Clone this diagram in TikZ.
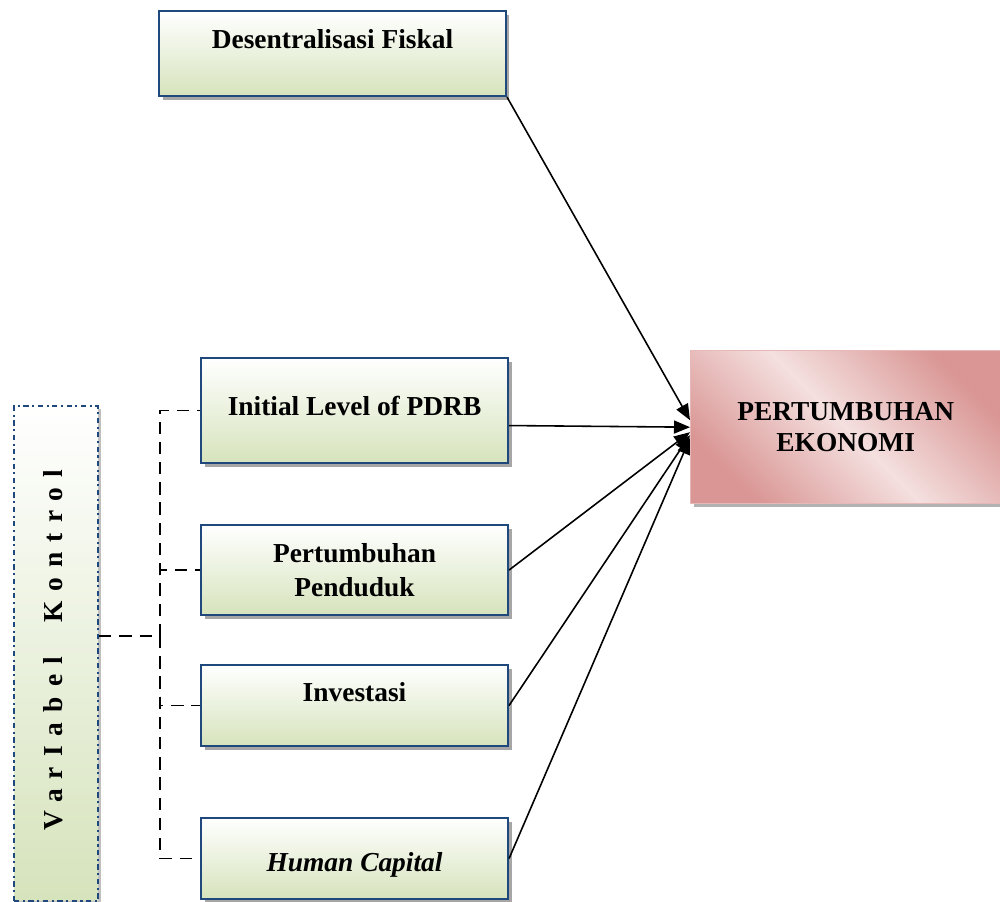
\documentclass[tikz,border=0pt]{standalone}
\usepackage{fontspec}
\setmainfont{Liberation Serif}
\usepackage{tikz}
\usetikzlibrary{shapes.geometric, arrows.meta, positioning, calc, shadows}
\definecolor{boxblue}{RGB}{31,73,125}
\definecolor{boxgreen}{RGB}{214,227,188}
\definecolor{pinkdark}{RGB}{217,150,148}
\definecolor{pinklight}{RGB}{244,224,223}
\definecolor{pinkline}{RGB}{230,185,184}
\tikzset{
  factorbox/.style={
    rectangle, draw=boxblue, line width=1.2pt,
    top color=white, bottom color=boxgreen,
    drop shadow={shadow xshift=0.07cm, shadow yshift=-0.07cm, fill=gray!70, opacity=1},
    anchor=north west, inner ysep=0pt, align=center,
    font=\fontsize{15.6}{19}\selectfont\bfseries
  },
  targetbox/.style={
    rectangle, draw=pinkline, line width=0.8pt,
    top color=pinkdark, bottom color=pinkdark, middle color=pinklight,
    shading angle=-45,
    drop shadow={shadow xshift=0.07cm, shadow yshift=-0.07cm, fill=gray!60, opacity=1},
    anchor=north west, align=center,
    font=\fontsize{15.6}{17.5}\selectfont\bfseries
  },
  controlbox/.style={
    rectangle, draw=boxblue, line width=1.2pt, dash dot,
    top color=white, bottom color=boxgreen,
    drop shadow={shadow xshift=0.05cm, shadow yshift=-0.05cm, fill=gray!50, opacity=1},
    anchor=north west, inner sep=0pt
  },
  arrow/.style={line width=0.9pt, -{Triangle[length=0.32cm, width=0.26cm]}, color=black},
  dashline/.style={line width=0.9pt, dash pattern=on 7pt off 4.5pt, color=black},
}
\begin{document}
\begin{tikzpicture}[x=0.02cm, y=-0.02cm]
  \useasboundingbox (0,0) rectangle (1000,902);

  \node (desf) [factorbox, minimum width=6.94cm, text height=0.74cm, text depth=0.96cm] at (158,10) {Desentralisasi Fiskal};
  \node (init) [factorbox, minimum width=6.14cm, text height=1.14cm, text depth=0.96cm] at (200,357) {Initial Level of PDRB};
  \node (pend) [factorbox, minimum width=6.14cm, minimum height=1.8cm, inner ysep=0pt] at (200,524) {Pertumbuhan\\Penduduk};
  \node (inv)  [factorbox, minimum width=6.14cm, text height=0.72cm, text depth=0.9cm] at (200,664) {Investasi};
  \node (hc)   [factorbox, minimum width=6.14cm, text height=1.06cm, text depth=0.56cm] at (200,817) {\textit{Human Capital}};
  \node (pe)   [targetbox, minimum width=6.2cm, minimum height=3.06cm] at (690,350) {PERTUMBUHAN\\EKONOMI};
  \node (ctrl) [controlbox, minimum width=1.68cm, minimum height=9.9cm] at (13,405) {};
  \node (ctrltext) [rotate=90, font=\fontsize{15.6}{19}\selectfont\bfseries\addfontfeatures{LetterSpace=37}] at (53,650) {VarIabel\ \ Kontrol};

  % panah ke pertumbuhan ekonomi
  \draw [arrow] (desf.south east) -- ([yshift=0.14cm]pe.west);
  \draw [arrow] ([yshift=-0.3cm]init.east) -- ([yshift=-0.0cm]pe.west);
  \draw [arrow] (pend.east) -- ([yshift=-0.1cm]pe.west);
  \draw [arrow] (inv.east)  -- ([yshift=-0.16cm]pe.west);
  \draw [arrow] (hc.east)   -- ([yshift=-0.22cm]pe.west);

  % variabel kontrol
  \coordinate (bus) at (160,636);
  \draw [dashline] (ctrl.east |- bus) -- (bus);
  \foreach \n in {init,pend,inv,hc}
    \draw [dashline] (bus) |- (\n.west);
\end{tikzpicture}
\end{document}
